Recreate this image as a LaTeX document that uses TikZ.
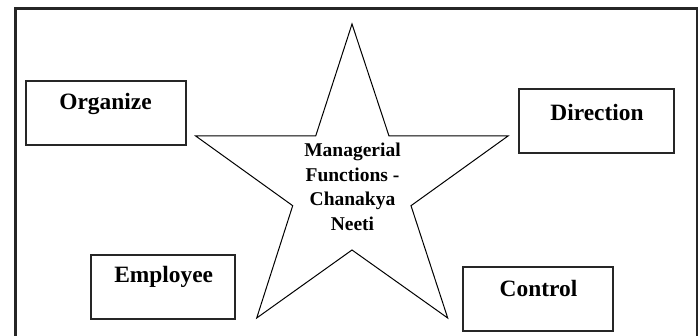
\documentclass[tikz,border=0pt]{standalone}
\usepackage{fontspec}
\setmainfont{Liberation Serif}
\begin{document}
\begin{tikzpicture}[x=1pt,y=-1pt,
  box/.style={draw=black!85,line width=1.1pt,rectangle,inner sep=0pt},
  boxlabel/.style={font=\fontsize{23.4}{26}\selectfont\bfseries,inner sep=0pt,anchor=center},
  startext/.style={font=\fontsize{19.5}{24.5}\selectfont\bfseries,align=center,inner sep=0pt}]
\useasboundingbox (0,0) rectangle (700,336);
\clip (0,0) rectangle (700,336);
% outer frame
\draw[line width=2.6pt,draw=black!85] (15.3,8.7) rectangle (697,345);
% star
\coordinate (st) at (352,24);
\coordinate (sil) at (315.7,136);
\coordinate (sl) at (195.7,136);
\coordinate (sll) at (292.7,205.7);
\coordinate (sbl) at (256.7,318);
\coordinate (sb) at (352,250);
\coordinate (sbr) at (447.7,318);
\coordinate (slr) at (411,205.7);
\coordinate (sr) at (508,136);
\coordinate (sir) at (389,136);
\draw[line width=1pt] (st) -- (sil) -- (sl) -- (sll) -- (sbl) -- (sb) -- (sbr) -- (slr) -- (sr) -- (sir) -- cycle;
\node[startext] (center) at (352.5,187) {Managerial\\Functions -\\Chanakya\\Neeti};
% boxes
\node[box,minimum width=160,minimum height=64] (org) at (106,113) {};
\node[boxlabel] (orgt) at (105.5,104) {Organize};
\node[box,minimum width=155,minimum height=64] (dir) at (596.5,121) {};
\node[boxlabel] (dirt) at (597,112) {Direction};
\node[box,minimum width=144,minimum height=64] (emp) at (163,287) {};
\node[boxlabel] (empt) at (163.7,277) {Employee};
\node[box,minimum width=150,minimum height=64] (con) at (538,299) {};
\node[boxlabel] (cont) at (538.5,288) {Control};
\end{tikzpicture}
\end{document}
